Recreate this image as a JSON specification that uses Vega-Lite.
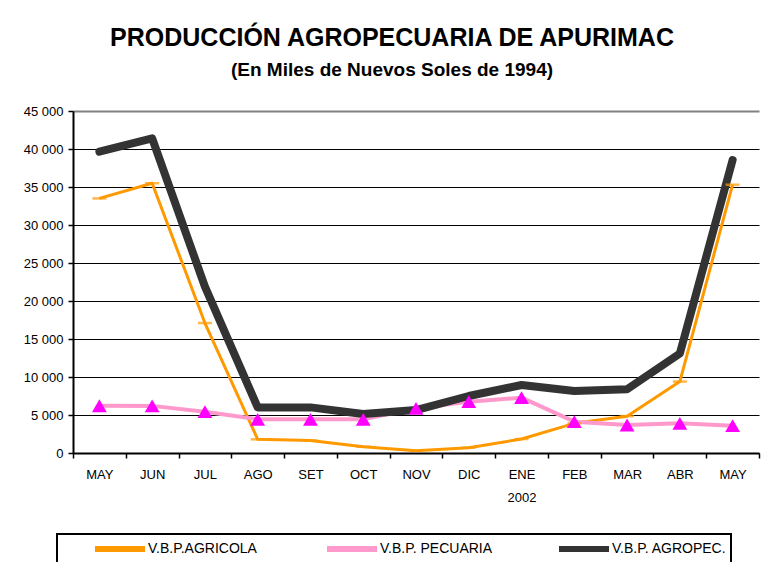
{
  "$schema": "https://vega.github.io/schema/vega-lite/v6.json",
  "autosize": "none",
  "width": 686,
  "height": 342,
  "padding": {"left": 73, "top": 111, "right": 2, "bottom": 109},
  "background": "white",
  "title": {
    "text": "PRODUCCIÓN AGROPECUARIA DE APURIMAC",
    "subtitle": "(En Miles de Nuevos Soles de 1994)",
    "font": "Liberation Sans",
    "fontSize": 25,
    "fontWeight": "bold",
    "color": "black",
    "subtitleFont": "Liberation Sans",
    "subtitleFontSize": 19,
    "subtitleFontWeight": "bold",
    "subtitleColor": "black",
    "subtitlePadding": 10,
    "anchor": "middle",
    "dx": -24,
    "offset": 25
  },
  "data": {
    "values": [
      {"mes": "MAY-01", "serie": "V.B.P.AGRICOLA", "valor": 33500},
      {"mes": "JUN", "serie": "V.B.P.AGRICOLA", "valor": 35500},
      {"mes": "JUL", "serie": "V.B.P.AGRICOLA", "valor": 17100},
      {"mes": "AGO", "serie": "V.B.P.AGRICOLA", "valor": 1800},
      {"mes": "SET", "serie": "V.B.P.AGRICOLA", "valor": 1650},
      {"mes": "OCT", "serie": "V.B.P.AGRICOLA", "valor": 830},
      {"mes": "NOV", "serie": "V.B.P.AGRICOLA", "valor": 300},
      {"mes": "DIC", "serie": "V.B.P.AGRICOLA", "valor": 700},
      {"mes": "ENE", "serie": "V.B.P.AGRICOLA", "valor": 1840},
      {"mes": "FEB", "serie": "V.B.P.AGRICOLA", "valor": 3900},
      {"mes": "MAR", "serie": "V.B.P.AGRICOLA", "valor": 4850},
      {"mes": "ABR", "serie": "V.B.P.AGRICOLA", "valor": 9400},
      {"mes": "MAY-02", "serie": "V.B.P.AGRICOLA", "valor": 35300},
      {"mes": "MAY-01", "serie": "V.B.P. PECUARIA", "valor": 6220},
      {"mes": "JUN", "serie": "V.B.P. PECUARIA", "valor": 6200},
      {"mes": "JUL", "serie": "V.B.P. PECUARIA", "valor": 5440},
      {"mes": "AGO", "serie": "V.B.P. PECUARIA", "valor": 4430},
      {"mes": "SET", "serie": "V.B.P. PECUARIA", "valor": 4430},
      {"mes": "OCT", "serie": "V.B.P. PECUARIA", "valor": 4430},
      {"mes": "NOV", "serie": "V.B.P. PECUARIA", "valor": 5880},
      {"mes": "DIC", "serie": "V.B.P. PECUARIA", "valor": 6750},
      {"mes": "ENE", "serie": "V.B.P. PECUARIA", "valor": 7280},
      {"mes": "FEB", "serie": "V.B.P. PECUARIA", "valor": 4120},
      {"mes": "MAR", "serie": "V.B.P. PECUARIA", "valor": 3680},
      {"mes": "ABR", "serie": "V.B.P. PECUARIA", "valor": 3900},
      {"mes": "MAY-02", "serie": "V.B.P. PECUARIA", "valor": 3600},
      {"mes": "MAY-01", "serie": "V.B.P. AGROPEC.", "valor": 39650},
      {"mes": "JUN", "serie": "V.B.P. AGROPEC.", "valor": 41400},
      {"mes": "JUL", "serie": "V.B.P. AGROPEC.", "valor": 21900},
      {"mes": "AGO", "serie": "V.B.P. AGROPEC.", "valor": 6000},
      {"mes": "SET", "serie": "V.B.P. AGROPEC.", "valor": 6000},
      {"mes": "OCT", "serie": "V.B.P. AGROPEC.", "valor": 5130},
      {"mes": "NOV", "serie": "V.B.P. AGROPEC.", "valor": 5650},
      {"mes": "DIC", "serie": "V.B.P. AGROPEC.", "valor": 7500},
      {"mes": "ENE", "serie": "V.B.P. AGROPEC.", "valor": 8950},
      {"mes": "FEB", "serie": "V.B.P. AGROPEC.", "valor": 8150},
      {"mes": "MAR", "serie": "V.B.P. AGROPEC.", "valor": 8380},
      {"mes": "ABR", "serie": "V.B.P. AGROPEC.", "valor": 13100},
      {"mes": "MAY-02", "serie": "V.B.P. AGROPEC.", "valor": 38550}
    ]
  },
  "encoding": {
    "x": {
      "field": "mes",
      "type": "nominal",
      "sort": null,
      "scale": {"domain": ["MAY-01","JUN","JUL","AGO","SET","OCT","NOV","DIC","ENE","FEB","MAR","ABR","MAY-02"], "paddingInner": 0, "paddingOuter": 0},
      "axis": {
        "title": null,
        "labelAngle": 0,
        "labelExpr": "isString(datum.value) ? (datum.value == 'ENE' ? ['ENE', '2002'] : split(datum.value, '-')[0]) : ''",
        "labelLineHeight": 23,
        "labelBaseline": "top",
        "labelPadding": 10,
        "tickBand": "extent",
        "tickSize": 5,
        "tickColor": "black",
        "tickWidth": 1.5,
        "domainColor": "black",
        "domainWidth": 2,
        "labelFont": "Liberation Sans",
        "labelFontSize": 13,
        "labelColor": "black",
        "grid": false
      }
    },
    "y": {
      "field": "valor",
      "type": "quantitative",
      "scale": {"domain": [0, 45000], "nice": false},
      "axis": {
        "title": null,
        "values": [0,5000,10000,15000,20000,25000,30000,35000,40000,45000],
        "labelExpr": "replace(format(datum.value, ','), ',', ' ')",
        "labelFont": "Liberation Sans",
        "labelFontSize": 13,
        "labelColor": "black",
        "labelPadding": 5,
        "tickSize": 5,
        "tickColor": "black",
        "tickWidth": 1.5,
        "domainColor": "black",
        "domainWidth": 2,
        "grid": true,
        "gridColor": {"condition": {"test": "datum.value == 45000", "value": "#808080"}, "value": "black"},
        "gridWidth": {"condition": {"test": "datum.value == 45000", "value": 2}, "value": 1},
        "gridOpacity": 1
      }
    }
  },
  "layer": [
    {
      "transform": [{"filter": "datum.serie == 'V.B.P.AGRICOLA'"}],
      "mark": {"type": "line", "strokeWidth": 3, "strokeJoin": "round"},
      "encoding": {
        "color": {
          "field": "serie",
          "type": "nominal",
          "scale": {"domain": ["V.B.P.AGRICOLA", "V.B.P. PECUARIA", "V.B.P. AGROPEC."], "range": ["#FF9900", "#FF99CC", "#333333"]},
          "legend": {
            "title": null,
            "orient": "none",
            "legendX": -16,
            "legendY": 423,
            "direction": "horizontal",
            "columns": 3,
            "gridAlign": "all",
            "columnPadding": 30,
            "symbolType": "M-3.125,0H3.125",
            "symbolSize": 256,
            "symbolStrokeWidth": 6,
            "symbolOffset": 48,
            "labelOffset": 17,
            "labelFont": "Liberation Sans",
            "labelFontSize": 14,
            "labelColor": "black",
            "labelLimit": 200,
            "strokeColor": "black",
            "padding": 4,
            "fillColor": "white",
            "encode": {
              "legend": {"update": {"strokeWidth": {"value": 2}}}
            }
          }
        }
      }
    },
    {
      "transform": [{"filter": "datum.serie == 'V.B.P. PECUARIA'"}],
      "mark": {"type": "line", "strokeWidth": 4, "strokeJoin": "round"},
      "encoding": {"color": {"field": "serie", "type": "nominal"}}
    },
    {
      "transform": [{"filter": "datum.serie == 'V.B.P. AGROPEC.'"}],
      "mark": {"type": "line", "strokeWidth": 8, "strokeJoin": "round", "strokeCap": "round"},
      "encoding": {"color": {"field": "serie", "type": "nominal"}}
    },
    {
      "transform": [{"filter": "datum.serie == 'V.B.P.AGRICOLA'"}],
      "mark": {"type": "tick", "color": "#FF9900", "size": 14, "thickness": 2.5, "orient": "horizontal"}
    },
    {
      "transform": [{"filter": "datum.serie == 'V.B.P. PECUARIA'"}],
      "mark": {"type": "point", "shape": "triangle-up", "filled": true, "color": "#FF00FF", "size": 220, "opacity": 1}
    }
  ],
  "config": {
    "view": {"stroke": null}
  }
}
